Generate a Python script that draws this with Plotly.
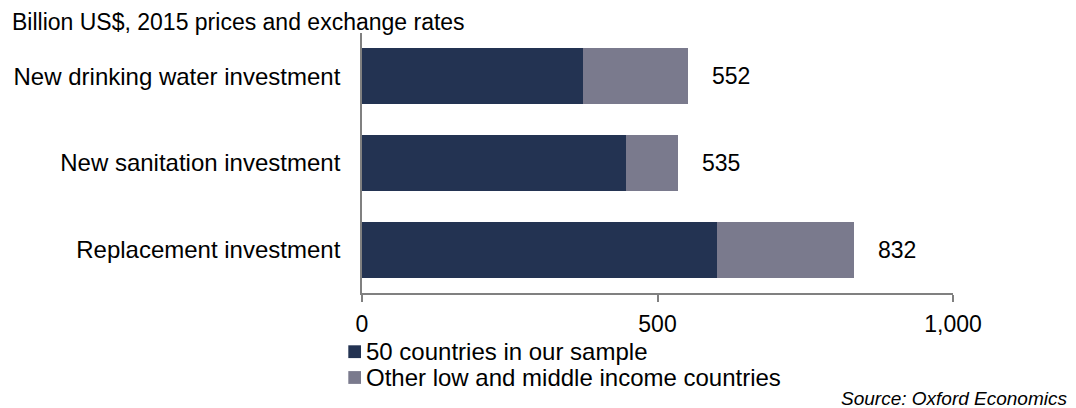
import plotly.graph_objects as go

# Investment needs, billion US$ (2015 prices and exchange rates)
categories = [
    "New drinking water investment",
    "New sanitation investment",
    "Replacement investment",
]
totals = [552, 535, 832]
sample_50 = [374, 447, 600]
other_lmic = [t - s for t, s in zip(totals, sample_50)]

series_names = [
    "50 countries in our sample",
    "Other low and middle income countries",
]
series_colors = ["#233352", "#7A7A8D"]

x_ticks = [0, 500, 1000]
title_text = "Billion US$, 2015 prices and exchange rates"
source_text = "Source: Oxford Economics"

FONT = "Liberation Sans, Arial, sans-serif"
W, H = 1076, 408
L, R, T, B = 362, 123, 33, 115
PW, PH = W - L - R, H - T - B


def px_x(x):
    return (x - L) / PW


def px_y(y):
    return (H - B - y) / PH


fig = go.Figure()
for name, vals, color in zip(series_names, [sample_50, other_lmic], series_colors):
    fig.add_trace(go.Bar(
        y=categories, x=vals, name=name, orientation="h",
        marker=dict(color=color, line=dict(width=0)),
        showlegend=False, hoverinfo="x+name",
    ))

annotations = []
# total labels at the end of each stacked bar
for cat, tot in zip(categories, totals):
    annotations.append(dict(
        x=tot, y=cat, xref="x", yref="y", text=f"{tot:,}",
        showarrow=False, xanchor="left", yanchor="middle", xshift=22,
        font=dict(family=FONT, size=23, color="#000000"),
    ))

# unit title
annotations.append(dict(
    x=px_x(10), y=px_y(22), xref="paper", yref="paper", text=title_text,
    showarrow=False, xanchor="left", yanchor="middle",
    font=dict(family=FONT, size=23, color="#000000"),
))

# source note
annotations.append(dict(
    x=px_x(1069), y=px_y(398), xref="paper", yref="paper",
    text=f"<i>{source_text}</i>",
    showarrow=False, xanchor="right", yanchor="middle",
    font=dict(family=FONT, size=19, color="#000000"),
))

# legend: coloured squares with labels underneath the axis
shapes = []
legend_rows = [351.7, 377.5]
for name, color, yc in zip(series_names, series_colors, legend_rows):
    shapes.append(dict(
        type="rect", xref="paper", yref="paper",
        x0=px_x(348.3), x1=px_x(361), y0=px_y(yc - 6.4), y1=px_y(yc + 6.4),
        fillcolor=color, line=dict(width=0),
    ))
    annotations.append(dict(
        x=px_x(363.5), y=px_y(yc), xref="paper", yref="paper", text=name,
        showarrow=False, xanchor="left", yanchor="middle",
        font=dict(family=FONT, size=24, color="#000000"),
    ))

fig.update_layout(
    width=W, height=H,
    margin=dict(l=L, r=R, t=T, b=B, pad=0),
    barmode="stack", bargap=0.354,
    plot_bgcolor="white", paper_bgcolor="white",
    font=dict(family=FONT, size=23, color="#000000"),
    annotations=annotations, shapes=shapes,
    showlegend=False,
)
fig.update_xaxes(
    range=[0, 1000], tickvals=x_ticks, tickformat=",",
    showgrid=False, zeroline=False,
    showline=True, linecolor="#808080", linewidth=1.7,
    ticks="outside", ticklen=7, tickwidth=1.5, tickcolor="#808080",
    tickfont=dict(family=FONT, size=23, color="#000000"),
    ticklabelstandoff=3,
)
fig.update_yaxes(
    categoryorder="array", categoryarray=categories, autorange="reversed",
    showgrid=False, zeroline=False,
    showline=True, linecolor="#808080", linewidth=1.7,
    ticks="", tickfont=dict(family=FONT, size=24, color="#000000"),
    ticklabelstandoff=15,
)

fig.write_html("out.html")
